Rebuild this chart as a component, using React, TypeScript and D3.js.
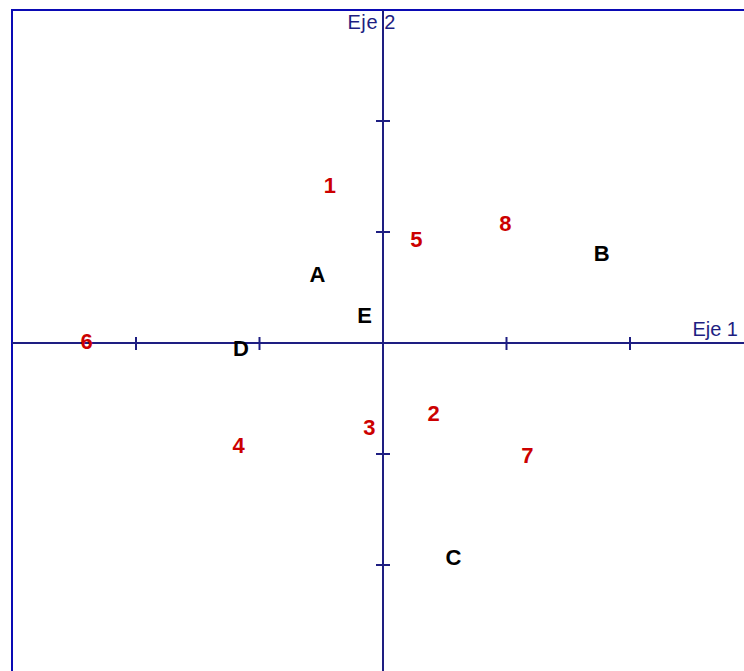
import React, { useEffect, useRef } from 'react';
import * as d3 from 'd3';

// Puntos del plano factorial (Eje 1, Eje 2)
const rowLabels = ['A', 'B', 'C', 'D', 'E'];
const rowX = [-0.53, 1.77, 0.57, -1.15, -0.15];
const rowY = [0.62, 0.81, -1.93, -0.05, 0.25];

const colLabels = ['1', '2', '3', '4', '5', '6', '7', '8'];
const colX = [-0.43, 0.41, -0.11, -1.17, 0.27, -2.4, 1.17, 0.99];
const colY = [1.42, -0.63, -0.76, -0.92, 0.94, 0.02, -1.01, 1.08];

const tickValues = [-2, -1, 1, 2];

const W = 744;
const H = 671;

const App = () => {
  const svgRef = useRef<SVGSVGElement>(null);

  useEffect(() => {
    const svg = d3.select(svgRef.current);
    svg.selectAll('*').remove();

    const x = d3.scaleLinear().domain([-3, 3]).range([12.5, 753.5]);
    const y = d3.scaleLinear().domain([-3, 3]).range([676, 10]);

    const axisColor = '#1e1e82';

    // marco
    svg.append('rect')
      .attr('x', 12)
      .attr('y', 10)
      .attr('width', W + 20)
      .attr('height', H + 20)
      .attr('fill', 'white')
      .attr('stroke', '#0a0ab4')
      .attr('stroke-width', 2);

    // ejes
    svg.append('line')
      .attr('x1', 12).attr('x2', W)
      .attr('y1', y(0)).attr('y2', y(0))
      .attr('stroke', axisColor)
      .attr('stroke-width', 2);

    svg.append('line')
      .attr('x1', x(0)).attr('x2', x(0))
      .attr('y1', 10).attr('y2', H)
      .attr('stroke', axisColor)
      .attr('stroke-width', 2);

    // marcas
    svg.selectAll('.xtick')
      .data(tickValues)
      .enter()
      .append('line')
      .attr('class', 'xtick')
      .attr('x1', d => x(d)).attr('x2', d => x(d))
      .attr('y1', y(0) - 6).attr('y2', y(0) + 7)
      .attr('stroke', axisColor)
      .attr('stroke-width', 2);

    svg.selectAll('.ytick')
      .data(tickValues)
      .enter()
      .append('line')
      .attr('class', 'ytick')
      .attr('y1', d => y(d)).attr('y2', d => y(d))
      .attr('x1', x(0) - 7).attr('x2', x(0) + 7)
      .attr('stroke', axisColor)
      .attr('stroke-width', 2);

    const font = '"Liberation Sans", Arial, sans-serif';

    // títulos de ejes
    svg.append('text')
      .attr('x', W - 6)
      .attr('y', y(0) - 7)
      .attr('text-anchor', 'end')
      .style('font-family', font)
      .style('font-size', '20px')
      .attr('fill', axisColor)
      .text('Eje 1');

    svg.append('text')
      .attr('x', x(0) + 13)
      .attr('y', 29)
      .attr('text-anchor', 'end')
      .style('font-family', font)
      .style('font-size', '20px')
      .style('letter-spacing', '0.6px')
      .attr('fill', axisColor)
      .text('Eje 2');

    svg.selectAll('.row')
      .data(rowLabels)
      .enter()
      .append('text')
      .attr('class', 'row')
      .attr('x', (d, i) => x(rowX[i]))
      .attr('y', (d, i) => y(rowY[i]))
      .attr('dy', '0.36em')
      .attr('text-anchor', 'middle')
      .style('font-family', font)
      .style('font-size', '22px')
      .style('font-weight', 'bold')
      .attr('fill', '#000')
      .text(d => d);

    svg.selectAll('.col')
      .data(colLabels)
      .enter()
      .append('text')
      .attr('class', 'col')
      .attr('x', (d, i) => x(colX[i]))
      .attr('y', (d, i) => y(colY[i]))
      .attr('dy', '0.36em')
      .attr('text-anchor', 'middle')
      .style('font-family', font)
      .style('font-size', '22px')
      .style('font-weight', 'bold')
      .attr('fill', '#cc0000')
      .text(d => d);
  }, []);

  return (
    <div style={{ position: 'absolute', left: 0, top: 0, width: W, height: H, overflow: 'hidden', background: 'white' }}>
      <svg ref={svgRef} width={W} height={H} style={{ display: 'block' }}></svg>
    </div>
  );
};

export default App;
